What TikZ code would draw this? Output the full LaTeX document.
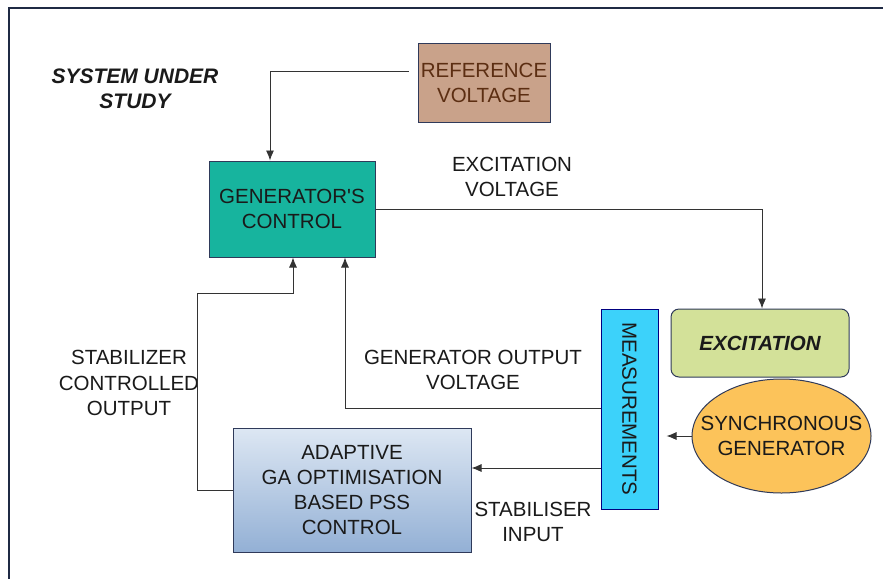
\documentclass[tikz,border=0pt]{standalone}
\usepackage{fontspec}
\setmainfont{Liberation Sans}
\usetikzlibrary{shapes.geometric,arrows.meta}
\definecolor{refc}{HTML}{C9A28A}
\definecolor{reftext}{HTML}{5C2E12}
\definecolor{ctrlc}{HTML}{17B49E}
\definecolor{excc}{HTML}{D3E199}
\definecolor{sgc}{HTML}{FCC35A}
\definecolor{measc}{HTML}{3CD2FA}
\definecolor{psstop}{HTML}{DDE7F3}
\definecolor{pssbot}{HTML}{93B0D5}
\definecolor{edge}{HTML}{2F3A5A}
\definecolor{txt}{HTML}{1A1A1A}
\definecolor{framec}{HTML}{1F2A44}
\tikzset{
  blk/.style={draw=edge, line width=1pt, align=center, inner sep=0pt, text=txt,
              font=\fontsize{20.5}{25}\selectfont},
  conn/.style={draw=black!80, line width=0.9pt, -{Latex[length=10pt,width=8pt]}},
  lbl/.style={align=center, text=txt, font=\fontsize{20.5}{25.5}\selectfont}
}
\begin{document}
\begin{tikzpicture}[x=1pt,y=-1pt]
\useasboundingbox (0,0) rectangle (883,579);
\fill[white] (0,0) rectangle (883,579);
% frame
\draw[framec, line width=1.4pt] (883,8) -- (9,8) -- (9,579);

% blocks
\node[blk, fill=refc, text=reftext, minimum width=132pt, minimum height=79pt] (ref) at (484,82.5) {REFERENCE\\VOLTAGE};
\node[blk, fill=ctrlc, minimum width=166pt, minimum height=96pt] (ctrl) at (292,209) {GENERATOR\textquotesingle S\\CONTROL};
\node[blk, fill=excc, rounded corners=8pt, minimum width=178pt, minimum height=68pt,
      font=\fontsize{20.5}{25}\selectfont\bfseries\itshape] (exc) at (760,343) {EXCITATION};
\node[blk, ellipse, fill=sgc, minimum width=179pt, minimum height=114pt] (sg) at (781.5,436) {};
\node[lbl] (sgtext) at (sg.center) {SYNCHRONOUS\\GENERATOR};
\node[blk, fill=measc, draw=blue!50!black, minimum width=57pt, minimum height=200pt] (meas) at (629.5,409) {};
\node[rotate=-90, text=txt, font=\fontsize{20.5}{25}\selectfont] (meastext) at (meas.center) {MEASUREMENTS};
\node[blk, top color=psstop, bottom color=pssbot, minimum width=238pt, minimum height=124pt] (pss) at (352,490) {ADAPTIVE\\GA OPTIMISATION\\BASED PSS\\CONTROL};

% labels
\node[lbl, font=\fontsize{21}{25}\selectfont\bfseries\itshape] (sys) at (135,89) {SYSTEM UNDER\\STUDY};
\node[lbl] (excv) at (512,177) {EXCITATION\\VOLTAGE};
\node[lbl] (stabout) at (129,383) {STABILIZER\\CONTROLLED\\OUTPUT};
\node[lbl] (genout) at (473,370) {GENERATOR OUTPUT\\VOLTAGE};
\node[lbl] (stabin) at (533,522) {STABILISER\\INPUT};

% connectors
\coordinate (b1) at (197,293);
\coordinate (m2) at ([yshift=-59pt]meas.west);
\draw[conn, shorten <=9pt] ([yshift=11.5pt]ref.west) -| ([xshift=-22pt]ctrl.north);
\draw[conn] (ctrl.east) -| ([xshift=2pt]exc.north);
\draw[conn, shorten >=8pt] (sg.west) -- (meas.east |- sg.west);
\draw[conn] ([yshift=1pt]meas.west) -| ([xshift=53pt]ctrl.south);
\draw[conn] (m2) -- (pss.east |- m2);
\draw[conn] (pss.west) -| (b1) -| ([xshift=1pt]ctrl.south);
\end{tikzpicture}
\end{document}
